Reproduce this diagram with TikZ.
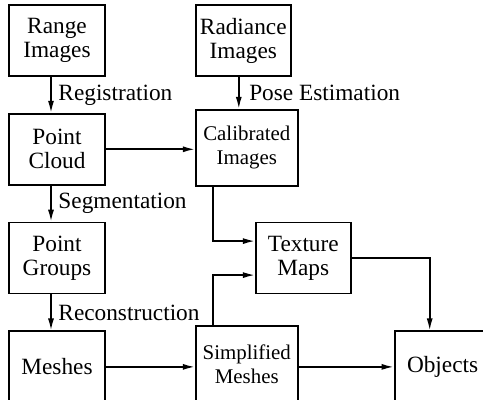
\documentclass[tikz,border=0pt]{standalone}
\usepackage{fontspec}
\setmainfont{Liberation Serif}
\usepackage{tikz}
\usetikzlibrary{positioning,arrows.meta,calc}

\begin{document}
\begin{tikzpicture}[
        every node/.style={font=\fontsize{11.65}{12}\selectfont},
        box/.style={
            draw=black,
            line width=0.9pt,
            align=center,
            inner sep=1pt,
            minimum width=48pt,
            minimum height=35.5pt
        },
        widebox/.style={
            box,
            font=\fontsize{10.45}{12}\selectfont,
            minimum width=51pt,
            minimum height=38pt
        },
        >={Latex[length=6pt,width=3pt]},
        arrow/.style={->, line width=0.8pt}
    ]
        \useasboundingbox (0,0) rectangle (241.5pt,-200pt);

        % Left Column
        \node[box] (range) at (28.5pt,-20.25pt) {Range\\Images};
        \node[box, below=18pt of range] (cloud) {Point\\Cloud};
        \node[box, below=18pt of cloud] (groups) {Point\\Groups};
        \node[box, below=18pt of groups] (meshes) {Meshes};

        % Right Columns
        \node[box, minimum width=47.5pt, right=44.5pt of range] (radiance) {Radiance\\Images};
        \node[widebox, below=16pt of radiance.south west, anchor=north west] (calib) {Calibrated\\Images};
        \node[box, minimum width=47.5pt, right=74.5pt of groups] (texture) {Texture\\Maps};
        \node[widebox, right=44.5pt of meshes.south east, anchor=south west] (simpl) {Simplified\\Meshes};
        \node[box, right=47.5pt of simpl.south east, anchor=south west] (objects) {Objects};

        % Main Flow Arrows
        \draw[arrow] ([xshift=-3pt]range.south) -- node[right] {Registration} ([xshift=-3pt]cloud.north);
        \draw[arrow] ([xshift=-3pt]cloud.south) -- node[right] {Segmentation} ([xshift=-3pt]groups.north);
        \draw[arrow] ([xshift=-3pt]groups.south) -- node[right] {Reconstruction} ([xshift=-3pt]meshes.north);
        \draw[arrow] ([xshift=-2.25pt]radiance.south) -- node[right, xshift=1.5pt] {Pose Estimation} ([xshift=-2.25pt]radiance.south |- calib.north);

        % Cross Flow
        \draw[arrow] (cloud.east) -- (cloud.east -| calib.west);
        \draw[arrow] (meshes.east) -- (meshes.east -| simpl.west);
        \draw[arrow] (objects.west -| simpl.east) -- (objects.west);

        % Texture
        \draw[arrow] ([xshift=9pt]calib.south west) |- ([yshift=8.5pt]texture.west);
        \draw[arrow] ([xshift=9pt]simpl.north west) |- ([yshift=-8.5pt]texture.west);
        \draw[arrow] (texture.east) -| ([xshift=18pt]objects.north west);

    \end{tikzpicture}
\end{document}
